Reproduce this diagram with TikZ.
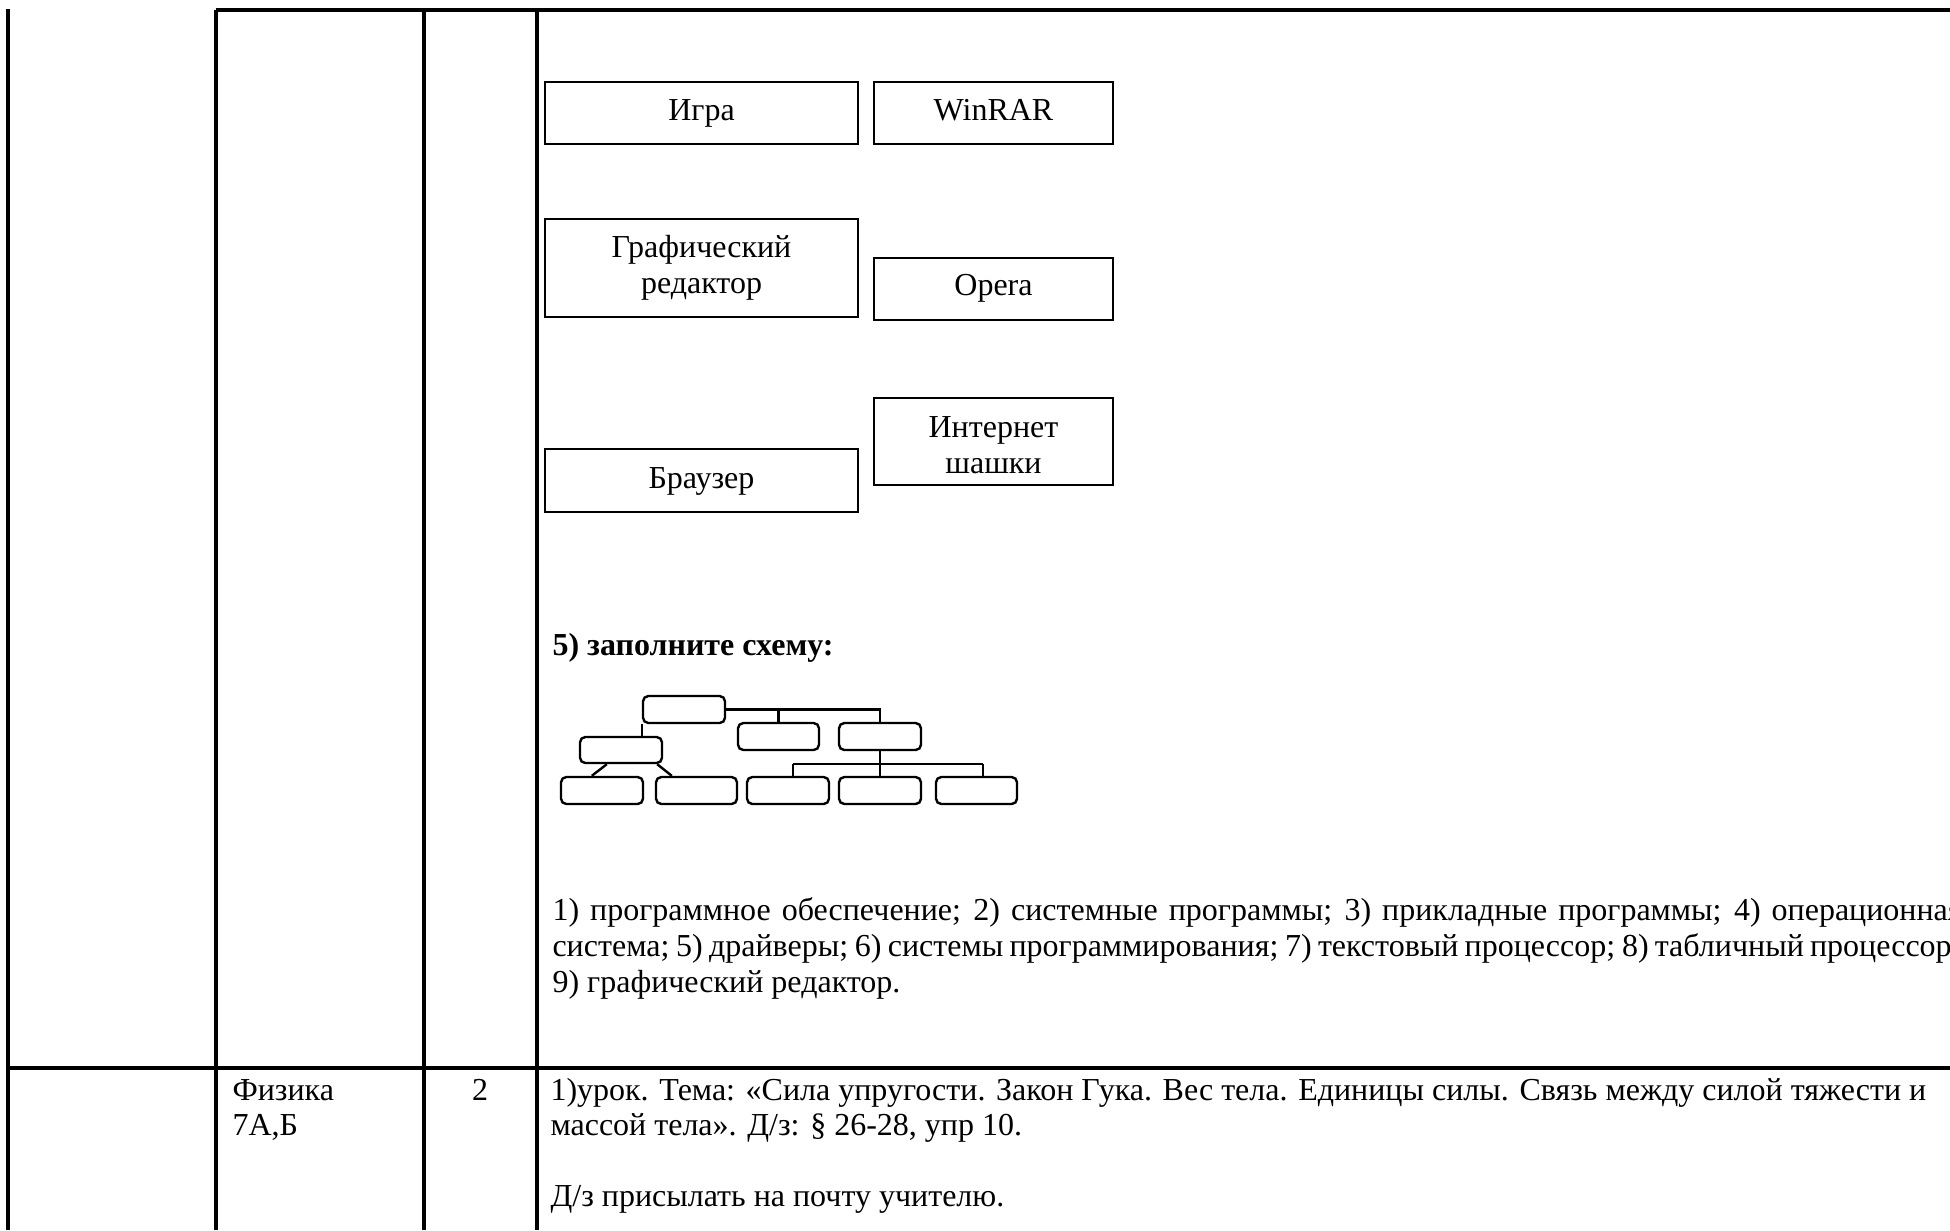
\documentclass[tikz,border=0pt]{standalone}
\usepackage{fontspec}
\setmainfont{Liberation Serif}
\usetikzlibrary{fit,calc}
\begin{document}
\begin{tikzpicture}[x=0.375pt,y=-0.375pt,
  tline/.style={line width=1.2pt},
  tbox/.style={draw, line width=0.8pt, inner sep=0pt},
  rbox/.style={draw, line width=0.9pt, rounded corners=2pt, inner sep=0pt},
  conn/.style={line width=0.9pt},
  txt/.style={font=\fontsize{12}{14}\selectfont, inner sep=0pt, anchor=base},
]
\useasboundingbox (0,0) rectangle (1950,1230);

% table grid
\draw[tline] (8,9) -- (8,1230);
\draw[tline] (216,10) -- (216,1230);
\draw[tline] (424,10) -- (424,1230);
\draw[tline] (537,10) -- (537,1230);
\draw[tline] (215.5,10) -- (1950,10);
\draw[tline] (8,1068) -- (1950,1068);

% word boxes
\node[tbox, fit={(545,82) (858,144)}] (igra) {};
\node[tbox, fit={(874,82) (1113,144)}] (winrar) {};
\node[tbox, fit={(545,219) (858,317)}] (graf) {};
\node[tbox, fit={(874,258) (1113,320)}] (opera) {};
\node[tbox, fit={(874,398) (1113,485)}] (shashki) {};
\node[tbox, fit={(545,449) (858,512)}] (brauzer) {};

\node[txt] (tigra) at (701.5,120) {Игра};
\node[txt] (twinrar) at (993.5,120) {WinRAR};
\node[txt] (tgraf1) at (701.5,257) {Графический};
\node[txt] (tgraf2) at (701.5,293) {редактор};
\node[txt] (topera) at (993.5,295) {Opera};
\node[txt] (tshash1) at (993.5,437) {Интернет};
\node[txt] (tshash2) at (993.5,473) {шашки};
\node[txt] (tbrauzer) at (701.5,488) {Браузер};

% task 5
\node[txt, anchor=base west, font=\fontsize{12}{14}\selectfont\bfseries] (task5) at (552,655) {5) заполните схему:};

% tree scheme
\node[rbox, fit={(643,696) (725,723)}] (root) {};
\node[rbox, fit={(738,723) (819,750)}] (m2) {};
\node[rbox, fit={(839,723) (921,750)}] (r2) {};
\node[rbox, fit={(580,737) (662,763)}] (l2) {};
\node[rbox, fit={(561,777) (643,804)}] (b1) {};
\node[rbox, fit={(656,777) (737,804)}] (b2) {};
\node[rbox, fit={(747,777) (829,804)}] (b3) {};
\node[rbox, fit={(839,777) (921,804)}] (b4) {};
\node[rbox, fit={(936,777) (1017,804)}] (b5) {};

\draw[conn] (root.east) -| (r2.north);
\draw[conn] (m2.north |- root.east) -- (m2.north);
\draw[conn] (root.south west) -- (root.south west |- l2.north);
\draw[conn] ($(l2.south west)+(28,0)$) -- ($(b1.north west)+(32,0)$);
\draw[conn] ($(l2.south east)+(-6,0)$) -- ($(b2.north west)+(17,0)$);
\coordinate (h3) at (793,764);
\coordinate (h5) at (983,764);
\draw[conn] (r2.south) -- (b4.north);
\draw[conn] (h3) -- (h5);
\draw[conn] (h3) -- (h3 |- b3.north);
\draw[conn] (h5) -- (h5 |- b5.north);

% answer list
\node[txt, anchor=base west] (p1) at (552,920) {\makebox[528.75pt][s]{1) программное обеспечение; 2) системные программы; 3) прикладные программы; 4) операционная}};
\node[txt, anchor=base west] (p2) at (552,956) {\makebox[528pt][s]{система; 5) драйверы; 6) системы программирования; 7) текстовый процессор; 8) табличный процессор;}};
\node[txt, anchor=base west] (p3) at (552,992) {9) графический редактор.};

% second row
\node[txt, anchor=base west] (fiz) at (232,1100) {Физика};
\node[txt, anchor=base west] (cls) at (232,1135) {7А,Б};
\node[txt] (hrs) at (480,1100) {2};
\node[txt, anchor=base west] (u1) at (550,1100) {1)урок. Тема: «Сила упругости. Закон Гука. Вес тела. Единицы силы. Связь между силой тяжести и};
\node[txt, anchor=base west] (u2) at (550,1135) {массой тела». Д/з: § 26-28, упр 10.};
\node[txt, anchor=base west] (u3) at (550,1206) {Д/з присылать на почту учителю.};
\end{tikzpicture}
\end{document}
